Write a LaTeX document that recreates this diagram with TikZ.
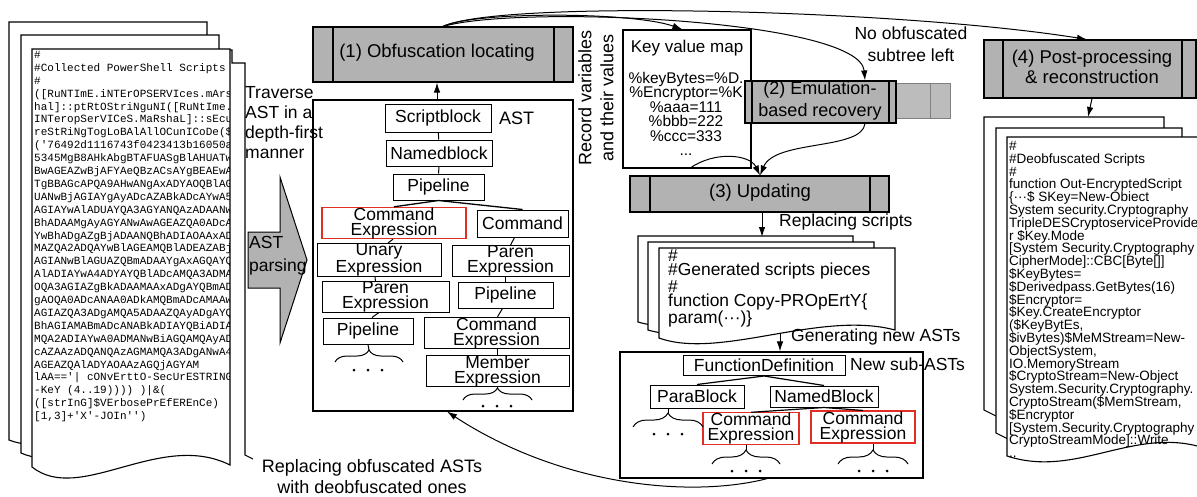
\documentclass[tikz,border=0pt]{standalone}
\usepackage{fontspec}
\setmainfont{Liberation Sans}
\setmonofont{Liberation Mono}
\usetikzlibrary{arrows.meta,decorations.pathreplacing,calc}
\definecolor{procgray}{RGB}{178,178,178}
\definecolor{ghostgray}{RGB}{188,188,188}
\definecolor{redline}{RGB}{225,45,35}
\newcommand\myfs[2]{\fontsize{#1}{#2}\selectfont}
\newcommand\threedots[2]{\foreach \dx in {-14,0,14}{\fill ($(#1,#2)+(\dx,0)$) circle (1.5);}}
\begin{document}
\begin{tikzpicture}[x=1pt,y=-1pt,
  proc/.style={draw, line width=1.1pt, fill=procgray, inner sep=0pt},
  tn/.style={draw, line width=1pt, fill=white, inner sep=0pt, align=center, font=\myfs{17.5}{15}},
  tnr/.style={tn, draw=redline, line width=1.1pt},
  conn/.style={line width=1pt},
  arr/.style={line width=1pt, -{Latex[length=10pt,width=6.5pt]}},
  lbl/.style={inner sep=0pt, font=\myfs{17.5}{20}, align=left},
  page/.style={draw, line width=1.1pt, fill=white},
  br/.style={decorate, decoration={brace, amplitude=#1}, line width=1pt},
  br/.default=12pt,
  frame/.style={draw, line width=1.1pt, inner sep=0pt}
]
\useasboundingbox (0,0) rectangle (1197,496);

% ---------------- left document stack ----------------
\draw[line width=1.1pt] (230,50) -- (232,50) -- (232,63) -- (245,63) -- (245,455) -- (253,459);
\draw[page] (9,440) -- (9,22) -- (207,22) -- (207,425) .. controls (150,410) and (60,460) .. (9,440) -- cycle;
\draw[page] (21,453) -- (21,35) -- (219,35) -- (219,440) .. controls (160,420) and (70,475) .. (21,453) -- cycle;
\draw[page] (32,467) -- (32,49) -- (230,49) -- (230,465) .. controls (160,430) and (80,505) .. (32,467) -- cycle;
\begin{scope}
\clip (32,49) rectangle (229.4,470);
\node[anchor=north west, inner sep=0pt, align=left, font=\ttfamily\myfs{11}{12.9}] (src) at (34,51) {\#\\
\#Collected PowerShell Scripts\\
\#\\
([RuNTImE.iNTErOPSERVIces.mArs\\
hal]::ptRtOStriNguNI([RuNtIme.\\
INTeropSerVICeS.MaRshaL]::sEcu\\
reStRiNgTogLoBAlAllOCunICoDe(\$\\
('76492d1116743f0423413b16050a\\
5345MgB8AHkAbgBTAFUASgBlAHUATw\\
BwAGEAZwBjAFYAeQBzACsAYgBEAEwA\\
TgBBAGcAPQA9AHwANgAxADYAOQBlAG\\
UANwBjAGIAYgAyADcAZABkADcAYwA5\\
AGIAYwAlADUAYQA3AGYANQAzADAANw\\
BhADAAMgAyAGYANwAwAGEAZQA0ADcA\\
YwBhADgAZgBjADAANQBhADIAOAAxAD\\
MAZQA2ADQAYwBlAGEAMQBlADEAZABj\\
AGIANwBlAGUAZQBmADAAYgAxAGQAYQ\\
AlADIAYwA4ADYAYQBlADcAMQA3ADMA\\
OQA3AGIAZgBkADAAMAAxADgAYQBmAD\\
gAOQA0ADcANAA0ADkAMQBmADcAMAAw\\
AGIAZQA3ADgAMQA5ADAAZQAyADgAYQ\\
BhAGIAMABmADcANABkADIAYQBiADIA\\
MQA2ADIAYwA0ADMANwBiAGQAMQAyAD\\
cAZAAzADQANQAzAGMAMQA3ADgANwA4\\
AGEAZQAlADYAOAAzAGQjAGYAM\\
lAA=='| cONvErttO-SecUrESTRING\\
-KeY (4..19)))) )|\&(\\
([strInG]\$VErbosePrEfEREnCe)\\
{}[1,3]+'X'-JOIn'')};
\end{scope}

% traverse label and AST parsing arrow
\node[lbl, anchor=north west] (trav) at (245,86) {Traverse\\AST in a\\depth-first\\manner};
\draw[fill=procgray, line width=1pt] (248,232) -- (280,232) -- (280,177) -- (307,260) -- (280,343) -- (280,288) -- (248,288) -- cycle;
\node[inner sep=0pt, font=\myfs{17.5}{23}, align=left, anchor=west] (astp) at (249,256) {AST\\parsing};

% ---------------- (1) and AST ----------------
\node[proc, minimum width=260, minimum height=55] (p1) at (443,54.5) {};
\draw[line width=1.1pt] (333,27) -- (333,82) (554,27) -- (554,82);
\node[font=\myfs{18.5}{22}] (p1t) at (437,53) {(1) Obfuscation locating};

\node[frame, minimum width=260, minimum height=311] (ast) at (443,255.5) {};
\node[inner sep=0pt, font=\myfs{18}{20}, anchor=west] (astlbl) at (499,118) {AST};

\node[tn, minimum width=106, minimum height=28] (sb) at (438,118) {Scriptblock};
\node[tn, minimum width=106, minimum height=26] (nb) at (439,153) {Namedblock};
\node[tn, minimum width=91, minimum height=26] (pl1) at (438.5,187) {Pipeline};
\node[tnr, minimum width=144, minimum height=30] (ce1) at (394,223) {Command\\Expression};
\node[tn, minimum width=91, minimum height=27] (cmd) at (522.5,223.5) {Command};
\node[tn, minimum width=124, minimum height=30] (ue) at (379,260) {Unary\\Expression};
\node[tn, minimum width=117, minimum height=30] (pe1) at (510.5,261) {Paren\\Expression};
\node[tn, minimum width=127, minimum height=30] (pe2) at (385.5,297) {Paren\\Expression};
\node[tn, minimum width=95, minimum height=26] (pl3) at (505.5,295) {Pipeline};
\node[tn, minimum width=90, minimum height=26] (pl2) at (368,331) {Pipeline};
\node[tn, minimum width=145, minimum height=30] (ce2) at (496.5,333) {Command\\Expression};
\node[tn, minimum width=143, minimum height=30] (me) at (497.5,371) {Member\\Expression};

\draw[conn] (sb) -- (nb);
\draw[conn] (nb) -- (pl1);
\draw[line width=1.3pt] (pl1.south) -- (ce1.north);
\draw[line width=1.3pt] (pl1.south) -- (cmd.north);
\draw[conn] ($(ce1.south)+(-1,0)$) -- ($(ue.north)+(9,0)$);
\draw[conn] ($(cmd.south)+(-8,0)$) -- ($(pe1.north)+(0,0)$);
\draw[conn] ($(ue.south)+(-4,0)$) -- ($(pe2.north)+(-10,0)$);
\draw[conn] ($(pe2.south)+(-7,0)$) -- ($(pl2.north)+(4,0)$);
\draw[conn] ($(pe1.south)+(-5,0)$) -- (pl3.north);
\draw[conn] ($(pl3.south)+(-3,0)$) -- ($(ce2.north)+(1,0)$);
\draw[conn] ($(ce2.south)+(1,0)$) -- ($(me.north)+(0,0)$);

\draw[br=12pt] (335,362) -- (403,362);
\coordinate (b1) at (369,350);
\draw[conn] (pl2.south) -- (b1);
\threedots{368}{370}
\draw[br=12pt] (463,400) -- (532,400);
\coordinate (b2) at (497.5,388);
\draw[conn] (me.south) -- (b2);
\threedots{497}{406}

\draw[arr] ($(ast.north)+(-6,0)$) -- ($(p1.south)+(-6,0)$);

% ---------------- record label / key value map ----------------
\node[rotate=90, font=\myfs{18}{22}, align=center] (rec) at (596,98) {Record variables\\and their values};
\node[frame, minimum width=128, minimum height=138] (kv) at (687,99) {};
\node[font=\myfs{17}{20}] (kvt) at (687,48) {Key value map};
\node[font=\myfs{15.5}{14.5}, align=center, anchor=north, inner sep=0pt] (kvb) at (686,72) {\%keyBytes=\%D.\\\%Encryptor=\%K\\\%aaa=111\\\%bbb=222\\\%ccc=333\\...};

% ---------------- (2) ----------------
\draw[line width=1pt, draw=gray, fill=ghostgray] (880,83) rectangle (950,118);
\draw[line width=1pt, draw=gray] (930,83) -- (930,118);
\node[proc, minimum width=151, minimum height=42] (p2) at (820.5,102) {};
\draw[line width=1.1pt] (752,81) -- (752,123) (889,81) -- (889,123);
\node[font=\myfs{18}{22}, align=center] (p2t) at (820,101) {(2) Emulation-\\based recovery};
\node[font=\myfs{17.5}{22}, align=center] (noobf) at (911,44) {No obfuscated\\subtree left};

% ---------------- (3) ----------------
\node[proc, minimum width=259, minimum height=36] (p3) at (759.5,194) {};
\draw[line width=1.1pt] (650,176) -- (650,212) (870,176) -- (870,212);
\node[font=\myfs{18.5}{22}] (p3t) at (760,193) {(3) Updating};
\coordinate (p3in) at ($(p3.north)+(0.5,0)$);

% ---------------- (4) ----------------
\node[proc, minimum width=212, minimum height=58] (p4) at (1090,69) {};
\draw[line width=1.1pt] (1003,40) -- (1003,98) (1182,40) -- (1182,98);
\node[font=\myfs{18.5}{20}, align=center] (p4t) at (1092,67) {(4) Post-processing\\\& reconstruction};

% top curves from (1)
\draw[arr] (p1.north) .. controls +(30,-15) and +(-50,-18) .. ($(kv.north west)+(60,0)$);
\draw[arr] (p1.north) .. controls +(77,-22) and +(-5,-61) .. ($(p2.north)+(44.5,0)$);
\draw[arr] (p1.north) .. controls +(57,-27) and +(-187,-30) .. ($(p4.north)+(-3,0)$);

% into (3)
\draw[arr] ($(kv.south west)+(67,0)$) .. controls +(25,-18) and +(-10,-21) .. (p3in);
\draw[arr] ($(p2.south)+(44.5,0)$) .. controls +(-3,27) and +(15,-36) .. (p3in);

% ---------------- generated scripts stack ----------------
\draw[page] (638,322) -- (638,236) -- (853,236) -- (853,315) .. controls (800,300) and (700,340) .. (638,322) -- cycle;
\draw[page] (648,330) -- (648,242) -- (874,242) -- (874,322) .. controls (810,305) and (710,348) .. (648,330) -- cycle;
\draw[page] (659,338) -- (659,248) -- (895,248) -- (895,330) .. controls (820,310) and (720,360) .. (659,338) -- cycle;
\node[anchor=north west, inner sep=0pt, align=left, font=\myfs{17.4}{14.5}] (gen) at (668,249) {\#\\\#Generated scripts pieces\\\#\\function Copy-PROpErtY\{\\param(···)\}};
\coordinate (gdtop) at (762,237);
\draw[arr] ($(p3.south)+(2.5,0)$) -- (gdtop);
\node[inner sep=0pt, font=\myfs{17.5}{20}, anchor=west] (rs) at (779,222) {Replacing scripts};

% ---------------- new sub-ASTs ----------------
\node[frame, minimum width=303, minimum height=126] (subast) at (771.5,415) {};
\coordinate (gdbot) at (780,334);
\draw[arr] (gdbot) -- (gdbot |- subast.north);
\node[inner sep=0pt, font=\myfs{17.5}{20}, anchor=west] (gna) at (791,337) {Generating new ASTs};
\node[inner sep=0pt, font=\myfs{17.5}{20}, anchor=west] (nsa) at (850,364) {New sub-ASTs};

\node[tn, minimum width=162, minimum height=20] (fd) at (764,365.5) {FunctionDefinition};
\node[tn, minimum width=94, minimum height=23] (pb) at (697,396.5) {ParaBlock};
\node[tn, minimum width=108, minimum height=21] (nbk) at (824,396.5) {NamedBlock};
\node[tnr, minimum width=96, minimum height=31] (ce3) at (751,428.5) {Command\\Expression};
\node[tnr, minimum width=104, minimum height=32] (ce4) at (863,427) {Command\\Expression};
\draw[line width=1.2pt] (fd.south) -- (pb.north);
\draw[line width=1.2pt] (fd.south) -- (nbk.north);
\draw[line width=1.2pt] (nbk.south) -- (ce3.north);
\draw[line width=1.2pt] (nbk.south) -- (ce4.north);

\draw[br=14pt] (633,427) -- (703,427);
\coordinate (b3) at (668,413);
\draw[conn] (pb.south -| b3) -- (b3);
\threedots{668}{434}
\draw[br=14pt] (712,464) -- (780,464);
\coordinate (b4) at (746,450);
\draw[conn] (ce3.south -| b4) -- (b4);
\threedots{746}{471}
\draw[br=14pt] (838,464) -- (908,464);
\coordinate (b5) at (873,450);
\draw[conn] (ce4.south -| b5) -- (b5);
\threedots{873}{471}

% bottom return arrow
\draw[arr] ($(subast.south west)+(148,0)$) .. controls +(-78,20) and +(113,74) .. ($(ast.south)+(4,0)$);
\node[font=\myfs{18}{21}, align=center] (repl) at (372,477) {Replacing obfuscated ASTs\\with deobfuscated ones};

% ---------------- deobfuscated stack ----------------
\draw[page] (984,410) -- (984,117) -- (1164,117) -- (1164,400) -- (1000,418) -- cycle;
\draw[page] (996,433) -- (996,128) -- (1182,128) -- (1182,420) -- (1010,440) -- cycle;
\draw[page] (1007,456) -- (1007,137) -- (1215,137) -- (1215,452) .. controls (1140,420) and (1080,480) .. (1007,456) -- cycle;
\coordinate (ddtop) at (1088,117);
\draw[arr] ($(p4.south)+(2,0)$) -- (ddtop);
\node[anchor=north west, inner sep=0pt, align=left, font=\myfs{13.5}{12.8}] (deob) at (1009,141) {\#\\
\#Deobfuscated Scripts\\
\#\\
function Out-EncryptedScript\\
\{···\$ SKey=New-Obiect\\
System security.Cryptography\\
TripleDESCryptoserviceProvide\\
r \$Key.Mode\\
{}[System Security.Cryptography\\
CipherMode]::CBC[Byte[]]\\
\$KeyBytes=\\
\$Derivedpass.GetBytes(16)\\
\$Encryptor=\\
\$Key.CreateEncryptor\\
(\$KeyBytEs,\\
\$ivBytes)\$MeMStream=New-\\
ObjectSystem,\\
IO.MemoryStream\\
\$CryptoStream=New-Object\\
System.Security.Cryptography.\\
CryptoStream(\$MemStream,\\
\$Encryptor\\
{}[System.Security.Cryptography\\
CryptoStreamMode]::Write\\
..};
\end{tikzpicture}
\end{document}
